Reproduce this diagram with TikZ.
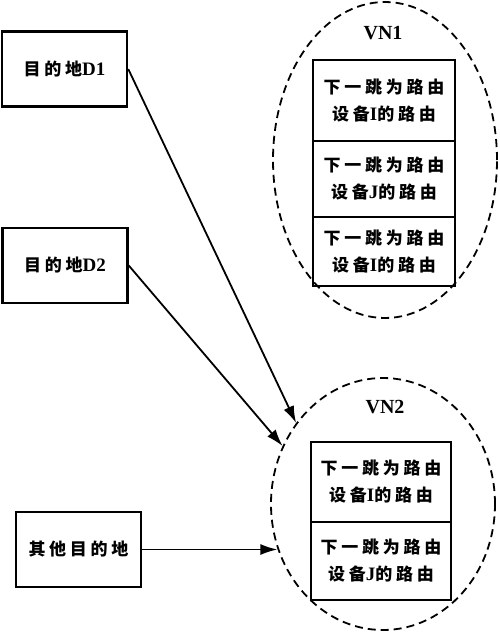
\documentclass[tikz,border=0pt]{standalone}
\usepackage{fontspec}
\setmainfont{Liberation Serif}
\newfontfamily\cjkf{Noto Sans CJK SC}[LetterSpace=22]
\usetikzlibrary{shapes.geometric,arrows.meta}
\newcommand\cn[1]{{\cjkf\bfseries #1}}
\newcommand\la[1]{{\fontsize{19}{26}\selectfont\bfseries #1}}
\begin{document}
\begin{tikzpicture}[x=1pt,y=-1pt,
  box/.style={draw,line width=2.5pt,minimum width=125pt,minimum height=75pt,inner sep=0pt,font=\fontsize{17}{20}\selectfont},
  cell/.style={draw,line width=2.5pt,inner sep=0pt,align=center,font=\fontsize{17}{27}\selectfont},
  vn/.style={draw,ellipse,dash pattern=on 8pt off 5pt,line width=1.8pt,inner sep=0pt},
  arr/.style={line width=1.8pt,-{Latex[length=17pt,width=11pt]}},
  ttl/.style={font=\fontsize{20}{22}\selectfont\bfseries}]
\useasboundingbox (0,0) rectangle (500,632);
% ellipses
\node[vn,minimum width=224pt,minimum height=316pt] (vn1) at (385,160) {};
\node[vn,minimum width=224pt,minimum height=252pt] (vn2) at (383,504) {};
\node[ttl] (t1) at (383,33) {VN1};
\node[ttl] (t2) at (385,407) {VN2};
% VN1 table
\node[cell,minimum width=142pt,minimum height=81pt] (a1) at (384,100.5) {\cn{下一跳为路由}\\\cn{设备}\la{I}\cn{的路由}};
\node[cell,minimum width=142pt,minimum height=76pt] (a2) at (384,179) {\cn{下一跳为路由}\\\cn{设备}\la{J}\cn{的路由}};
\node[cell,minimum width=142pt,minimum height=69pt] (a3) at (384,251.5) {\cn{下一跳为路由}\\\cn{设备}\la{I}\cn{的路由}};
% VN2 table
\node[cell,minimum width=140pt,minimum height=80pt] (b1) at (381,482) {\cn{下一跳为路由}\\\cn{设备}\la{I}\cn{的路由}};
\node[cell,minimum width=140pt,minimum height=78pt] (b2) at (381,561) {\cn{下一跳为路由}\\\cn{设备}\la{J}\cn{的路由}};
% left boxes
\node[box] (d1) at (64.5,69) {\cn{目的地}\la{D1}};
\node[box] (d2) at (65,265.5) {\cn{目的地}\la{D2}};
\node[box] (oth) at (78.5,549.5) {\cn{其他目的地}};
% arrows
\draw[arr] (d1.east) -- (vn2.137);
\draw[arr] (d2.east) -- (vn2.150);
\draw[arr] (oth.east) -- (oth.east -| vn2.203);
\end{tikzpicture}
\end{document}
